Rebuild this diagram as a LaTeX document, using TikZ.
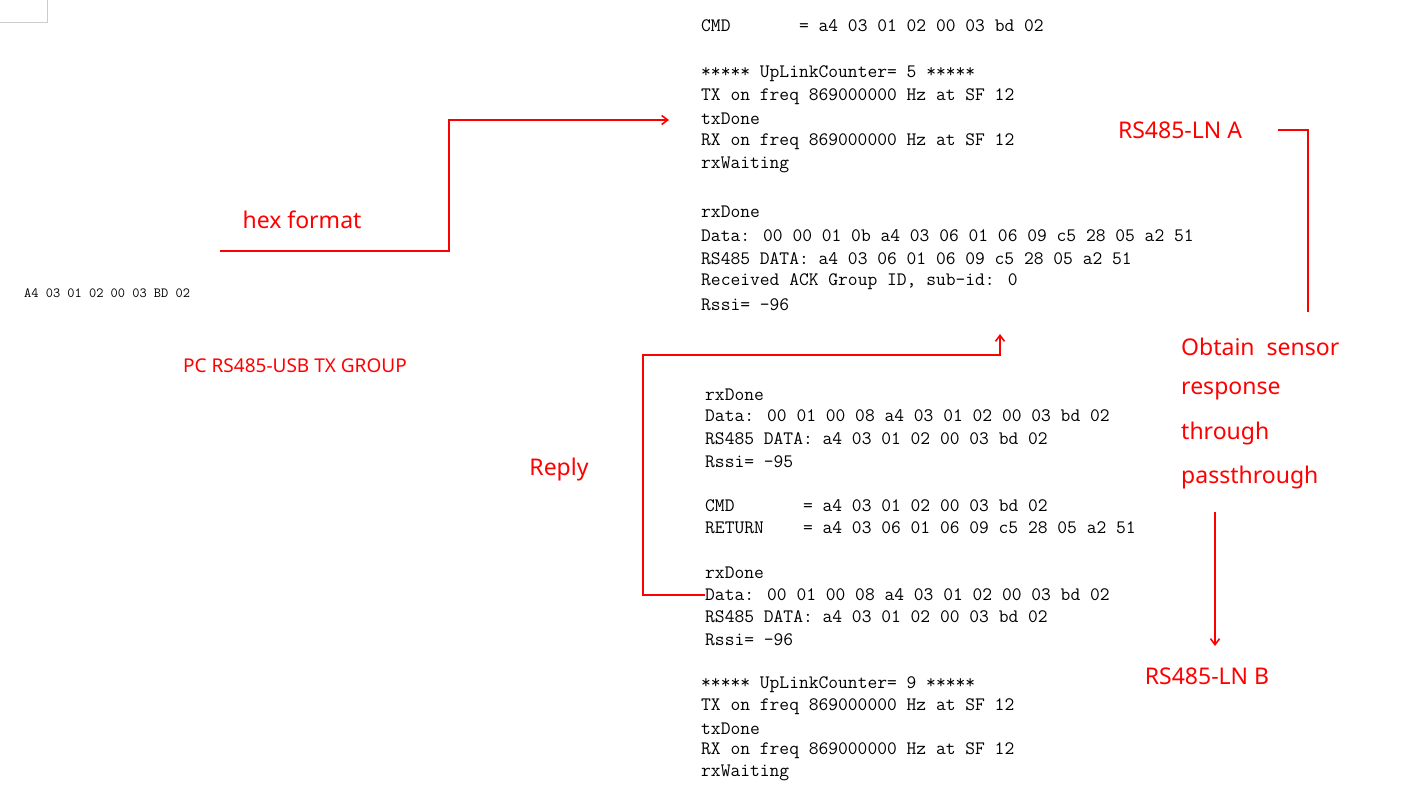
\documentclass[tikz,border=0pt]{standalone}
\usepackage{fontspec}
\setsansfont{Noto Sans}
\usetikzlibrary{arrows.meta}

\tikzset{
  logline/.style={anchor=west, inner sep=0pt, font=\ttfamily\fontsize{19}{22}\selectfont},
  note/.style={inner sep=0pt, text=red, font=\sffamily\fontsize{23}{28}\selectfont},
  link/.style={draw=red, line width=1.6pt},
  linkarrow/.style={link, -{Straight Barb[length=6pt,width=9pt]}}
}

\begin{document}
\begin{tikzpicture}[x=1pt, y=-1pt]

  \useasboundingbox (0,0) rectangle (1411,799);
  \draw[gray!40] (0,22) -- (47,22) -- (47,0);

  % Log of node A
  \foreach \y/\t [count=\i] in {
      26/{CMD~~~~~~~= a4 03 01 02 00 03 bd 02},
      74/{***** UpLinkCounter= 5 *****},
      97/{TX on freq 869000000 Hz at SF 12},
      119/{txDone},
      142/{RX on freq 869000000 Hz at SF 12},
      165/{rxWaiting},
      212/{rxDone},
      236/{Data: 00 00 01 0b a4 03 06 01 06 09 c5 28 05 a2 51},
      259/{RS485 DATA: a4 03 06 01 06 09 c5 28 05 a2 51},
      282/{Received ACK Group ID, sub-id: 0},
      305/{Rssi= -96}}
    \node[logline] (a\i) at (701,\y) {\t};

  % Log of node B
  \foreach \y/\t [count=\i] in {
      395/{rxDone},
      416/{Data: 00 01 00 08 a4 03 01 02 00 03 bd 02},
      439/{RS485 DATA: a4 03 01 02 00 03 bd 02},
      462/{Rssi= -95},
      506/{CMD~~~~~~~= a4 03 01 02 00 03 bd 02},
      528/{RETURN~~~~= a4 03 06 01 06 09 c5 28 05 a2 51},
      573/{rxDone},
      595/{Data: 00 01 00 08 a4 03 01 02 00 03 bd 02},
      617/{RS485 DATA: a4 03 01 02 00 03 bd 02},
      640/{Rssi= -96}}
    \node[logline] (b\i) at (705,\y) {\t};
  \foreach \y/\t [count=\i] in {
      685/{***** UpLinkCounter= 9 *****},
      707/{TX on freq 869000000 Hz at SF 12},
      729/{txDone},
      751/{RX on freq 869000000 Hz at SF 12},
      773/{rxWaiting}}
    \node[logline] (c\i) at (701,\y) {\t};

  % Notes
  \node[inner sep=0pt, font=\ttfamily\fontsize{14}{16}\selectfont, anchor=west] (pccmd) at (24,293) {A4 03 01 02 00 03 BD 02};
  \node[note, font=\sffamily\fontsize{19}{24}\selectfont] (pcgroup) at (295,366) {PC RS485-USB TX GROUP};
  \node[note] (hex) at (302,220) {hex format};
  \node[note] (reply) at (559,470) {Reply};
  \node[note] (lna) at (1180,130) {RS485-LN A};
  \node[note, anchor=west] (obt1) at (1181,347) {Obtain~ sensor};
  \node[note, anchor=west] (obt2) at (1181,391) {response};
  \node[note, anchor=west] (obt3) at (1181,434) {through};
  \node[note, anchor=west] (obt4) at (1181,478) {passthrough};
  \node[note] (lnb) at (1207,676) {RS485-LN B};

  % Connectors
  \coordinate (hexstart) at (220,251);
  \coordinate (hexend) at (669,120);
  \draw[linkarrow] (hexstart) -| (449,185) |- (hexend);
  \coordinate (replyend) at (1000,334);
  \draw[linkarrow] (b8.west) -| (643,355) -| (replyend);
  \coordinate (lnaend) at (1308,312);
  \draw[link] (1278,130) -| (lnaend);
  \coordinate (downstart) at (1215,512);
  \coordinate (downend) at (1215,646);
  \draw[linkarrow] (downstart) -- (downend);

\end{tikzpicture}
\end{document}
